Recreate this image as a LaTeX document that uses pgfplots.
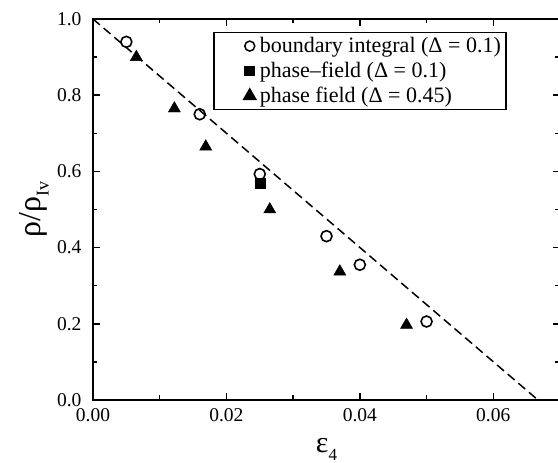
\documentclass[border=0pt]{standalone}
\usepackage{fontspec}
\setmainfont{Liberation Serif}
\usepackage{pgfplots}
\pgfplotsset{compat=1.18}
\pgfplotsset{mylegimg/.style={legend image code/.code={\path[draw=none, fill=none] (0pt,0pt) -- (1pt,0pt); \draw[##1] plot coordinates {(33pt,0pt)};}}}
\begin{document}
\begin{tikzpicture}
\begin{axis}[
  at={(0,0)}, anchor=south west,
  scale only axis, width=467pt, height=381pt,
  xmin=0, xmax=0.07, ymin=0, ymax=1,
  xtick={0,0.02,0.04,0.06}, minor xtick={0.01,0.03,0.05},
  ytick={0,0.2,0.4,0.6,0.8,1.0}, minor ytick={0.1,0.3,0.5,0.7,0.9},
  scaled x ticks=false, scaled y ticks=false,
  tick align=inside, major tick length=7pt, minor tick length=4.5pt,
  axis line style={line width=1.8pt},
  every tick/.style={black, line width=1.5pt},
  /pgf/number format/assume math mode=true,
  tick label style={font=\fontsize{19.5}{19.5}\selectfont},
  xticklabel style={/pgf/number format/fixed, /pgf/number format/fixed zerofill, /pgf/number format/precision=2, yshift=-5pt},
  yticklabel style={/pgf/number format/fixed, /pgf/number format/fixed zerofill, /pgf/number format/precision=1, xshift=-8pt},
  xlabel={\fontsize{30}{30}\selectfont ε\raisebox{-0.25em}{\fontsize{17}{17}\selectfont 4}},
  xlabel style={at={(axis description cs:0.5,-0.13)}, anchor=center},
  ylabel={\fontsize{32}{32}\selectfont ρ/ρ\raisebox{-0.25em}{\fontsize{18}{18}\selectfont Iv}},
  ylabel style={at={(axis description cs:-0.126,0.5)}, anchor=center},
  legend style={at={(0.257,0.966)}, anchor=north west, draw=black, line width=1.5pt,
    font=\fontsize{22}{23}\selectfont, inner xsep=3pt, inner ysep=3pt, row sep=4pt},
  legend cell align=left,
]
\addlegendimage{only marks, mark=o, mark size=5pt, mark options={line width=1.5pt, fill=white}, mylegimg}
\addlegendentry{\hspace{2pt}boundary integral (Δ = 0.1)\hspace{26pt}}
\addlegendimage{only marks, mark=square*, mark size=4.7pt, mylegimg}
\addlegendentry{\hspace{2pt}phase–field (Δ = 0.1)\hspace{26pt}}
\addlegendimage{only marks, mark=triangle*, mark size=7pt, mylegimg}
\addlegendentry{\hspace{2pt}phase field (Δ = 0.45)\hspace{26pt}}

\addplot[forget plot, black, line width=1.5pt, dash pattern=on 9pt off 5pt] coordinates {(0,1) (0.0667,0)};
\addplot[forget plot, only marks, mark=square*, mark size=5pt, black] coordinates {(0.025,0.570)};
\addplot[forget plot, only marks, mark=o, mark size=5.5pt, black, mark options={line width=1.6pt, fill=white}] coordinates {
  (0.005,0.940) (0.016,0.750) (0.025,0.593) (0.035,0.430) (0.040,0.355) (0.050,0.206)};
\addplot[forget plot, only marks, mark=triangle*, mark size=7pt, black] coordinates {
  (0.0065,0.900) (0.0122,0.765) (0.0169,0.665) (0.0265,0.500) (0.037,0.337) (0.047,0.197)};
\end{axis}
\pgfresetboundingbox
\path (-93pt,-63pt) rectangle (465pt,400pt);
\end{tikzpicture}
\end{document}
